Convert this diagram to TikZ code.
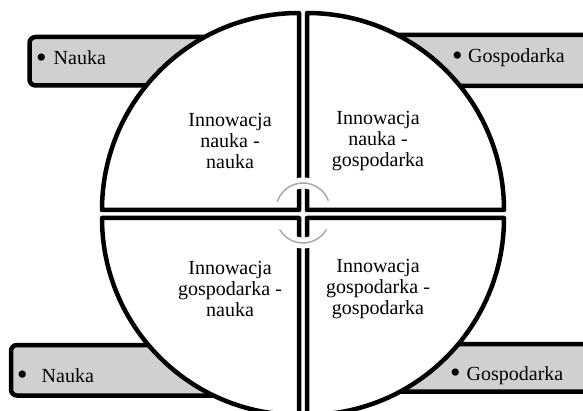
\documentclass[tikz,border=0pt]{standalone}
\usepackage{fontspec}
\usepackage{graphicx}
\setmainfont{Liberation Serif}
\definecolor{tabfill}{HTML}{D0D0D0}
\definecolor{cyclegray}{HTML}{A6A6A6}
\newcommand{\tabbullet}{\raisebox{-2.5pt}{\scalebox{1.5}{\textbullet}}}
\begin{document}
\begin{tikzpicture}[x=1pt,y=-1pt,
  tab/.style={draw=black,line width=4.5pt,fill=tabfill,rounded corners=6pt},
  quarter/.style={draw=black,line width=4.5pt,fill=white,line join=round},
  halo/.style={draw=white,line width=11pt},
  cyclearc/.style={draw=cyclegray,line width=1.4pt},
  lbl/.style={font=\fontsize{20}{21}\selectfont,align=center,inner sep=0pt},
  tabtext/.style={font=\fontsize{20}{21}\selectfont,anchor=base west,inner sep=0pt}]
\useasboundingbox (0,0) rectangle (583,411);
\clip (0,0) rectangle (583,411);
\def\R{197}
% side tabs, partly hidden behind the circle
\path[tab] (29.5,37) rectangle (240,85.5);
\path[tab] (370,35) rectangle (620,86);
\path[tab] (11,345) rectangle (250,395.5);
\path[tab] (360,344) rectangle (620,391.5);
% four quarters of the circle
\coordinate (ctl) at (299,210);
\coordinate (ctr) at (307,210);
\coordinate (cbl) at (299,218);
\coordinate (cbr) at (307,218);
\path[quarter] (ctl) -- ++(-\R,0) arc[start angle=180,end angle=270,radius=\R] -- cycle;
\path[quarter] (ctr) -- ++(0,-\R) arc[start angle=270,end angle=360,radius=\R] -- cycle;
\path[quarter] (cbl) -- ++(-\R,0) arc[start angle=180,end angle=90,radius=\R] -- cycle;
\path[quarter] (cbr) -- ++(\R,0) arc[start angle=0,end angle=90,radius=\R] -- cycle;
% circular marks in the middle
\coordinate (cup) at (303,210);
\coordinate (cdn) at (303,216);
\path[halo] (cup) ++(198:27) arc[start angle=198,end angle=340,radius=27];
\path[halo] (cdn) ++(150:27) arc[start angle=150,end angle=30,radius=27];
\path[cyclearc] (cup) ++(198:27) arc[start angle=198,end angle=340,radius=27];
\path[cyclearc] (cdn) ++(150:27) arc[start angle=150,end angle=30,radius=27];
% quarter labels
\node[lbl] (qtl) at (230,141) {Innowacja\\nauka -\\nauka};
\node[lbl] (qtr) at (378,141) {Innowacja\\nauka -\\gospodarka};
\node[lbl] (qbl) at (230,289) {Innowacja\\gospodarka -\\nauka};
\node[lbl] (qbr) at (378,289) {Innowacja\\gospodarka -\\gospodarka};
% tab labels
\node[tabtext] (ttl) at (36,65) {\tabbullet\hspace{7pt}Nauka};
\node[tabtext] (ttr) at (452,63) {\tabbullet\hspace{5.5pt}Gospodarka};
\node[tabtext] (tbl) at (17,382) {\tabbullet\hspace{14pt}Nauka};
\node[tabtext] (tbr) at (450,380) {\tabbullet\hspace{6pt}Gospodarka};
\end{tikzpicture}
\end{document}
